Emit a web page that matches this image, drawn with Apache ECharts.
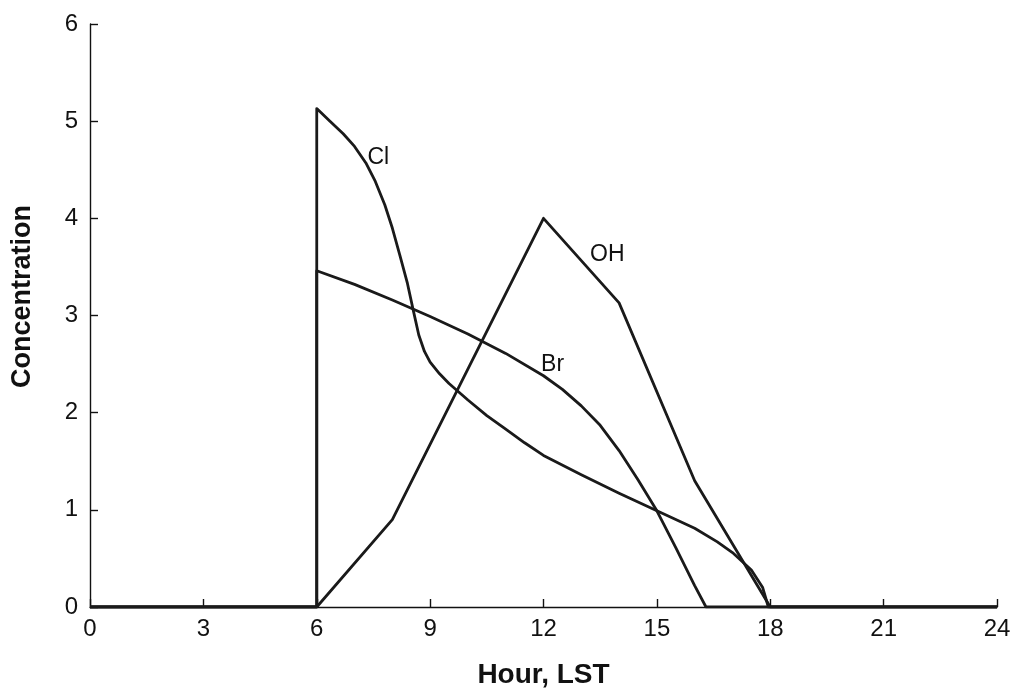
<!DOCTYPE html>
<html><head><meta charset="utf-8">
<script src="https://cdn.jsdelivr.net/npm/echarts@6/dist/echarts.min.js"></script>
<style>html,body{margin:0;padding:0;background:#fff}#c{width:1017px;height:694px}</style>
</head><body><div id="c"></div>
<script>
const xTicks = [0,3,6,9,12,15,18,21,24];
const yTicks = [0,1,2,3,4,5,6];
const clHours  = [0,6,6,6.35,6.7,7,7.3,7.55,7.8,8,8.2,8.4,8.55,8.7,8.85,9,9.25,9.5,10,10.5,11,11.5,12,13,14,15,16,16.6,17,17.5,17.8,17.95,24];
const clValues = [0,0,5.13,5.0,4.87,4.74,4.57,4.38,4.14,3.9,3.62,3.33,3.06,2.8,2.63,2.52,2.4,2.3,2.13,1.97,1.83,1.69,1.56,1.36,1.17,0.99,0.81,0.67,0.56,0.38,0.2,0,0];
const brHours  = [0,6,6,7,8,9,10,11,12,12.5,13,13.5,14,14.5,15,15.5,16,16.3,24];
const brValues = [0,0,3.46,3.32,3.16,2.99,2.81,2.61,2.38,2.24,2.07,1.87,1.61,1.31,0.99,0.61,0.22,0,0];
const ohHours  = [0,6,8,12,14,16,18,24];
const ohValues = [0,0,0.9,4.0,3.13,1.3,0,0];
const labelNames = ['Cl','OH','Br'];
const labelHours = [7.63,13.69,12.24];
const labelValues = [4.62,3.63,2.49];

const FONT = 'Liberation Sans, Arial, sans-serif';
const zip = (a,b)=>a.map((v,i)=>[v,b[i]]);
const lineStyle = {color:'#1a1a1a', width:2.8, join:'round'};
function mk(name, xs, ys, li){
  return {
    type:'line', name, data: zip(xs,ys), showSymbol:false, symbol:'none',
    lineStyle, itemStyle:{color:'#1a1a1a'}, z: 3,
    markPoint: {
      symbol:'circle', symbolSize:0, silent:true,
      data:[{coord:[labelHours[li], labelValues[li]], value:labelNames[li]}],
      label:{show:true, position:'inside', formatter:labelNames[li], color:'#111',
             fontFamily:FONT, fontSize:23}
    }
  };
}
const chart = echarts.init(document.getElementById('c'), null, {renderer:'canvas'});
chart.setOption({
  animation:false,
  grid:{left:90, right:20, top:24, bottom:82, containLabel:false},
  xAxis:{
    type:'value', min:0, max:24, interval:3,
    name:'Hour, LST', nameLocation:'middle', nameGap:54,
    nameTextStyle:{fontFamily:FONT, fontSize:28, fontWeight:'bold', color:'#111'},
    axisLine:{show:true, lineStyle:{color:'#111', width:1.4}},
    axisTick:{show:true, inside:true, length:8, lineStyle:{color:'#111', width:1.4}},
    axisLabel:{fontFamily:FONT, fontSize:24, color:'#111', margin:10,
               formatter:v=>xTicks.includes(v)?String(v):''},
    splitLine:{show:false}
  },
  yAxis:{
    type:'value', min:0, max:6, interval:1,
    name:'Concentration', nameLocation:'middle', nameGap:54, nameRotate:90,
    nameTextStyle:{fontFamily:FONT, fontSize:27, fontWeight:'bold', color:'#111', padding:[0,0,0,38]},
    axisLine:{show:true, lineStyle:{color:'#111', width:1.4}},
    axisTick:{show:true, inside:true, length:8, lineStyle:{color:'#111', width:1.4}},
    axisLabel:{fontFamily:FONT, fontSize:24, color:'#111', margin:12,
               formatter:v=>yTicks.includes(v)?String(v):''},
    splitLine:{show:false}
  },
  series:[
    mk('Cl', clHours, clValues, 0),
    mk('OH', ohHours, ohValues, 1),
    mk('Br', brHours, brValues, 2)
  ]
});
</script></body></html>
